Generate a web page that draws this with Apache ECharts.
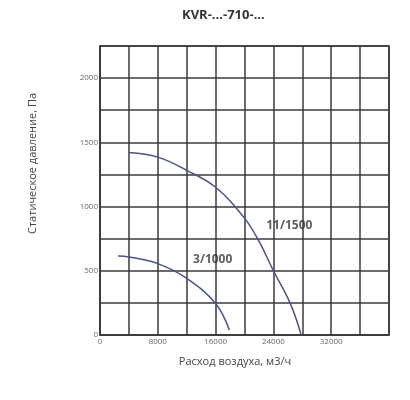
<!DOCTYPE html>
<html>
<head>
    <meta charset="utf-8">
    <title>KVR-710</title>
    <style>
        html, body { margin: 0; padding: 0; background: #fff; }
    </style>
</head>
<body>
    <div id="main" style="width: 410px;height:400px;"></div>

    <script src="https://cdn.jsdelivr.net/npm/echarts@6/dist/echarts.min.js"></script>
    <script type="text/javascript">
        // curve 11/1500: [flow m3/h, pressure Pa]
        var curve1500 = [[4000,1420],[8000,1385],[12000,1282],[16000,1150],[20000,910],[22000,730],[24000,500],[26300,250],[27800,10]];
        // curve 3/1000
        var curve1000 = [[2500,615],[4000,608],[8000,556],[12000,441],[16000,245],[17900,38]];
        var curveNames = ['11/1500', '3/1000'];
        var labelPos = [[26200,850],[15600,590]];
        var xLabels = [0, 8000, 16000, 24000, 32000];
        var yLabels = [0, 500, 1000, 1500, 2000];

        var lineColor = '#4a5290';
        var gridColor = '#3a3a3a';
        var font = '"Open Sans", "DejaVu Sans", sans-serif';

        var myChart = echarts.init(document.getElementById('main'));
        var option = {
            backgroundColor: '#fff',
            animation: false,
            title: {
                text: 'KVR-...-710-...',
                left: 177,
                top: 4,
                textStyle: { fontFamily: font, fontSize: 13, fontWeight: 'bold', color: '#333' }
            },
            grid: {
                left: 100,
                right: 21,
                top: 46,
                bottom: 65,
                show: true,
                borderColor: gridColor,
                borderWidth: 1.5
            },
            xAxis: {
                type: 'value',
                min: 0,
                max: 40000,
                interval: 4000,
                name: 'Расход воздуха, м3/ч',
                nameLocation: 'middle',
                nameGap: 21,
                nameTextStyle: { fontFamily: font, fontSize: 11, color: '#444', padding: [0, 19, 0, 0] },
                axisLine: { show: true, lineStyle: { color: gridColor, width: 1.5 } },
                axisTick: { show: false },
                axisLabel: {
                    fontFamily: font, fontSize: 8, color: '#666', margin: 3,
                    formatter: function (v) { return xLabels.indexOf(v) >= 0 ? String(v) : ''; }
                },
                splitLine: { show: true, lineStyle: { color: gridColor, width: 1.5 } }
            },
            yAxis: {
                type: 'value',
                min: 0,
                max: 2250,
                interval: 250,
                name: 'Статическое давление, Па',
                nameLocation: 'middle',
                nameGap: 62,
                nameTextStyle: { fontFamily: font, fontSize: 11, color: '#444', padding: [0, 0, 0, 54] },
                axisLine: { show: true, lineStyle: { color: gridColor, width: 1.5 } },
                axisTick: { show: false },
                axisLabel: {
                    fontFamily: font, fontSize: 8, color: '#666', margin: 2,
                    formatter: function (v) { return yLabels.indexOf(v) >= 0 ? String(v) : ''; }
                },
                splitLine: { show: true, lineStyle: { color: gridColor, width: 1.5 } }
            },
            series: [
                {
                    name: curveNames[0],
                    type: 'line',
                    smooth: 0.4,
                    symbol: 'none',
                    lineStyle: { color: lineColor, width: 1.5 },
                    data: curve1500
                },
                {
                    name: curveNames[1],
                    type: 'line',
                    smooth: 0.4,
                    symbol: 'none',
                    lineStyle: { color: lineColor, width: 1.5 },
                    data: curve1000
                },
                {
                    type: 'scatter',
                    symbolSize: 0,
                    silent: true,
                    label: {
                        show: true,
                        position: 'inside',
                        fontFamily: font,
                        fontSize: 12,
                        fontWeight: 'bold',
                        color: '#333',
                        formatter: function (p) { return curveNames[p.dataIndex]; }
                    },
                    data: labelPos
                }
            ]
        };
        myChart.setOption(option);
    </script>
</body>
</html>
